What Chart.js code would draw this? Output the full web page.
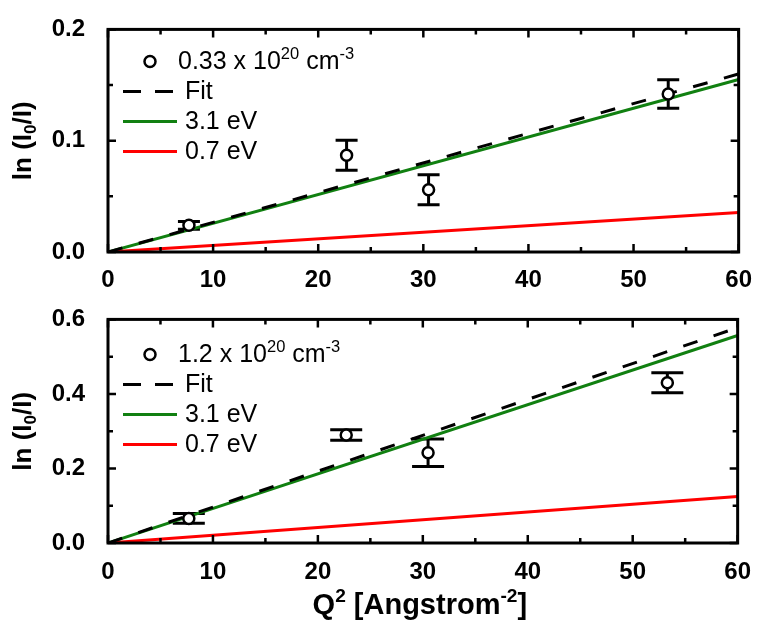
<!DOCTYPE html>
<html>
<head>
<meta charset="utf-8">
<script src="https://cdn.jsdelivr.net/npm/chart.js@4.4.0/dist/chart.umd.min.js"></script>
<style>
  html, body { margin: 0; padding: 0; background: #fff; }
  .wrap { position: relative; width: 758px; }
  #w1 { height: 290px; }
  #w2 { height: 335px; }
</style>
</head>
<body>
<div class="wrap" id="w1"><canvas id="c1"></canvas></div>
<div class="wrap" id="w2"><canvas id="c2"></canvas></div>
<script>
// ---- data ----
const qSquared = [7.7, 22.7, 30.5, 53.3];

const lowDensityLabel = ['0.33 x 10', '20', ' cm', '-3'];
const lowDensityY   = [0.024, 0.087, 0.056, 0.142];
const lowDensityErr = [0.0035, 0.0135, 0.0135, 0.0128];

const highDensityLabel = ['1.2 x 10', '20', ' cm', '-3'];
const highDensityY   = [0.066, 0.290, 0.242, 0.430];
const highDensityErr = [0.013, 0.014, 0.037, 0.027];

const lineX = [0, 60];
const lowFit   = [0, 0.160];
const low31eV  = [0, 0.155];
const low07eV  = [0, 0.0355];
const highFit  = [0, 0.578];
const high31eV = [0, 0.557];
const high07eV = [0, 0.125];

const xTicks = [0, 10, 20, 30, 40, 50, 60];
const lowYTicks = [0.0, 0.1, 0.2];
const highYTicks = [0.0, 0.2, 0.4, 0.6];

const FONT = '"Liberation Sans", Arial, sans-serif';

function pts(xs, ys) { return xs.map((x, i) => ({ x: x, y: ys[i] })); }

function richWidth(ctx, parts, size, weight) {
  let w = 0;
  parts.forEach(p => {
    const s = p.s ? size * 0.66 : size;
    ctx.font = weight + ' ' + s + 'px ' + FONT;
    w += ctx.measureText(p.t).width;
  });
  return w;
}
function drawRich(ctx, parts, x, y, size, weight) {
  let cx = x;
  parts.forEach(p => {
    const s = p.s ? size * 0.66 : size;
    ctx.font = weight + ' ' + s + 'px ' + FONT;
    let dy = 0;
    if (p.s === 'sup') dy = -size * 0.40;
    if (p.s === 'sub') dy = size * 0.20;
    ctx.fillText(p.t, cx, y + dy);
    cx += ctx.measureText(p.t).width;
  });
}

const framePlugin = {
  id: 'frame',
  beforeDatasetsDraw(chart, args, opts) {
    const ctx = chart.ctx, xs = chart.scales.x, ys = chart.scales.y;
    const ds = chart.data.datasets[0];
    const errs = opts.errors, capW = opts.capWidth;
    ctx.save();
    ctx.strokeStyle = '#000';
    ctx.lineWidth = 3;
    ds.data.forEach((p, i) => {
      const px = xs.getPixelForValue(p.x);
      const yTop = ys.getPixelForValue(p.y + errs[i]);
      const yBot = ys.getPixelForValue(p.y - errs[i]);
      ctx.beginPath();
      ctx.moveTo(px, yTop); ctx.lineTo(px, yBot);
      ctx.moveTo(px - capW / 2, yTop); ctx.lineTo(px + capW / 2, yTop);
      ctx.moveTo(px - capW / 2, yBot); ctx.lineTo(px + capW / 2, yBot);
      ctx.stroke();
    });
    ctx.restore();
  },
  afterDraw(chart, args, opts) {
    const ctx = chart.ctx, a = chart.chartArea;
    const xs = chart.scales.x, ys = chart.scales.y;
    ctx.save();
    ctx.strokeStyle = '#000';
    ctx.lineWidth = 2.5;
    const xMinor = 5, yMinor = opts.yMinor;
    ctx.beginPath();
    for (let v = xs.min; v <= xs.max + 1e-9; v += xMinor) {
      const major = Math.abs(v / 10 - Math.round(v / 10)) < 1e-6;
      const L = major ? 8 : 5;
      const px = xs.getPixelForValue(v);
      ctx.moveTo(px, a.bottom); ctx.lineTo(px, a.bottom - L);
      ctx.moveTo(px, a.top); ctx.lineTo(px, a.top + L);
    }
    for (let k = 0; k * yMinor <= ys.max + 1e-9; k++) {
      const v = k * yMinor;
      const L = (k % 2 === 0) ? 8 : 5;
      const py = ys.getPixelForValue(v);
      ctx.moveTo(a.left, py); ctx.lineTo(a.left + L, py);
      ctx.moveTo(a.right, py); ctx.lineTo(a.right - L, py);
    }
    ctx.stroke();
    ctx.lineWidth = 3;
    ctx.strokeRect(a.left, a.top, a.right - a.left, a.bottom - a.top);

    // y title (rotated)
    ctx.fillStyle = '#000';
    const yParts = [{ t: 'ln (I' }, { t: '0', s: 'sub' }, { t: '/I)' }];
    const tw = richWidth(ctx, yParts, 26, 'bold');
    ctx.save();
    ctx.translate(31, (a.top + a.bottom) / 2);
    ctx.rotate(-Math.PI / 2);
    ctx.textBaseline = 'alphabetic';
    drawRich(ctx, yParts, -tw / 2, 0, 26, 'bold');
    ctx.restore();

    // x title
    if (opts.xTitle) {
      const xParts = [{ t: 'Q' }, { t: '2', s: 'sup' }, { t: ' [Angstrom' }, { t: '-2', s: 'sup' }, { t: ']' }];
      const w = richWidth(ctx, xParts, 29, 'bold');
      ctx.textBaseline = 'alphabetic';
      drawRich(ctx, xParts, (a.left + a.right) / 2 - w / 2 - 3, a.bottom + 71, 29, 'bold');
    }

    // legend
    const lg = opts.legend;
    const lx = a.left, ly = a.top;
    ctx.beginPath();
    ctx.lineWidth = 2.5;
    ctx.strokeStyle = '#000';
    ctx.fillStyle = '#fff';
    ctx.arc(lx + 42, ly + lg.r0, 5.5, 0, Math.PI * 2);
    ctx.fill(); ctx.stroke();
    ctx.fillStyle = '#000';
    ctx.textBaseline = 'alphabetic';
    const lab = lg.label;
    drawRich(ctx, [{ t: lab[0] }, { t: lab[1], s: 'sup' }, { t: lab[2] }, { t: lab[3], s: 'sup' }],
      lx + 70, ly + lg.r0 + 8, 25, 'normal');
    const rows = [
      { txt: 'Fit', color: '#000', dash: [18, 14] },
      { txt: '3.1 eV', color: '#118011', dash: [] },
      { txt: '0.7 eV', color: '#ff0000', dash: [] }
    ];
    rows.forEach((r, i) => {
      const y = ly + lg.r0 + lg.dy * (i + 1);
      ctx.beginPath();
      ctx.strokeStyle = r.color;
      ctx.lineWidth = 3;
      ctx.setLineDash(r.dash);
      ctx.moveTo(lx + 15, y); ctx.lineTo(lx + 69, y);
      ctx.stroke();
      ctx.setLineDash([]);
      ctx.fillStyle = '#000';
      ctx.font = 'normal 25px ' + FONT;
      ctx.fillText(r.txt, lx + 77, y + 8);
    });
    ctx.restore();
  }
};

function makeChart(id, cfg) {
  return new Chart(document.getElementById(id), {
    type: 'scatter',
    data: {
      datasets: [
        { label: 'data', data: pts(qSquared, cfg.y), showLine: false, pointRadius: 5.5,
          pointBorderWidth: 2.5, pointBorderColor: '#000', pointBackgroundColor: '#fff', order: 0 },
        { label: 'Fit', data: pts(lineX, cfg.fit), showLine: true, pointRadius: 0,
          borderColor: '#000', borderWidth: 3, borderDash: [15, 17], order: 1 },
        { label: '0.7 eV', data: pts(lineX, cfg.e07), showLine: true, pointRadius: 0,
          borderColor: '#ff0000', borderWidth: 3, order: 2 },
        { label: '3.1 eV', data: pts(lineX, cfg.e31), showLine: true, pointRadius: 0,
          borderColor: '#118011', borderWidth: 3, order: 3 }
      ]
    },
    options: {
      responsive: true, maintainAspectRatio: false, animation: false,
      layout: { padding: { left: 0, right: 16, top: cfg.padTop, bottom: 0 } },
      plugins: {
        legend: { display: false }, tooltip: { enabled: false },
        frame: { errors: cfg.err, capWidth: cfg.capW, yMinor: cfg.yMinor, xTitle: cfg.xTitle, legend: cfg.legend }
      },
      scales: {
        x: {
          type: 'linear', min: 0, max: 60,
          afterBuildTicks: s => { s.ticks = xTicks.map(v => ({ value: v })); },
          afterFit: s => { s.height = cfg.xHeight; },
          grid: { display: false }, border: { display: false },
          ticks: { color: '#000', padding: cfg.xPad, font: { family: FONT, size: 24, weight: 'bold' },
                   maxRotation: 0, callback: v => String(v) }
        },
        y: {
          type: 'linear', min: 0, max: cfg.yMax,
          afterBuildTicks: s => { s.ticks = cfg.yTicks.map(v => ({ value: v })); },
          afterFit: s => { s.width = 108; },
          grid: { display: false }, border: { display: false },
          ticks: { color: '#000', padding: 15, font: { family: FONT, size: 24, weight: 'bold' },
                   callback: v => Number(v).toFixed(1) }
        }
      }
    },
    plugins: [framePlugin]
  });
}

makeChart('c1', {
  y: lowDensityY, err: lowDensityErr, fit: lowFit, e31: low31eV, e07: low07eV,
  yMax: 0.2, yTicks: lowYTicks, yMinor: 0.05, padTop: 25, xHeight: 38, xPad: 6,
  capW: 22, xTitle: false, legend: { label: lowDensityLabel, r0: 32, dy: 30 }
});
makeChart('c2', {
  y: highDensityY, err: highDensityErr, fit: highFit, e31: high31eV, e07: high07eV,
  yMax: 0.6, yTicks: highYTicks, yMinor: 0.1, padTop: 27, xHeight: 82, xPad: 7,
  capW: 32, xTitle: true, legend: { label: highDensityLabel, r0: 35, dy: 30 }
});
</script>
</body>
</html>
